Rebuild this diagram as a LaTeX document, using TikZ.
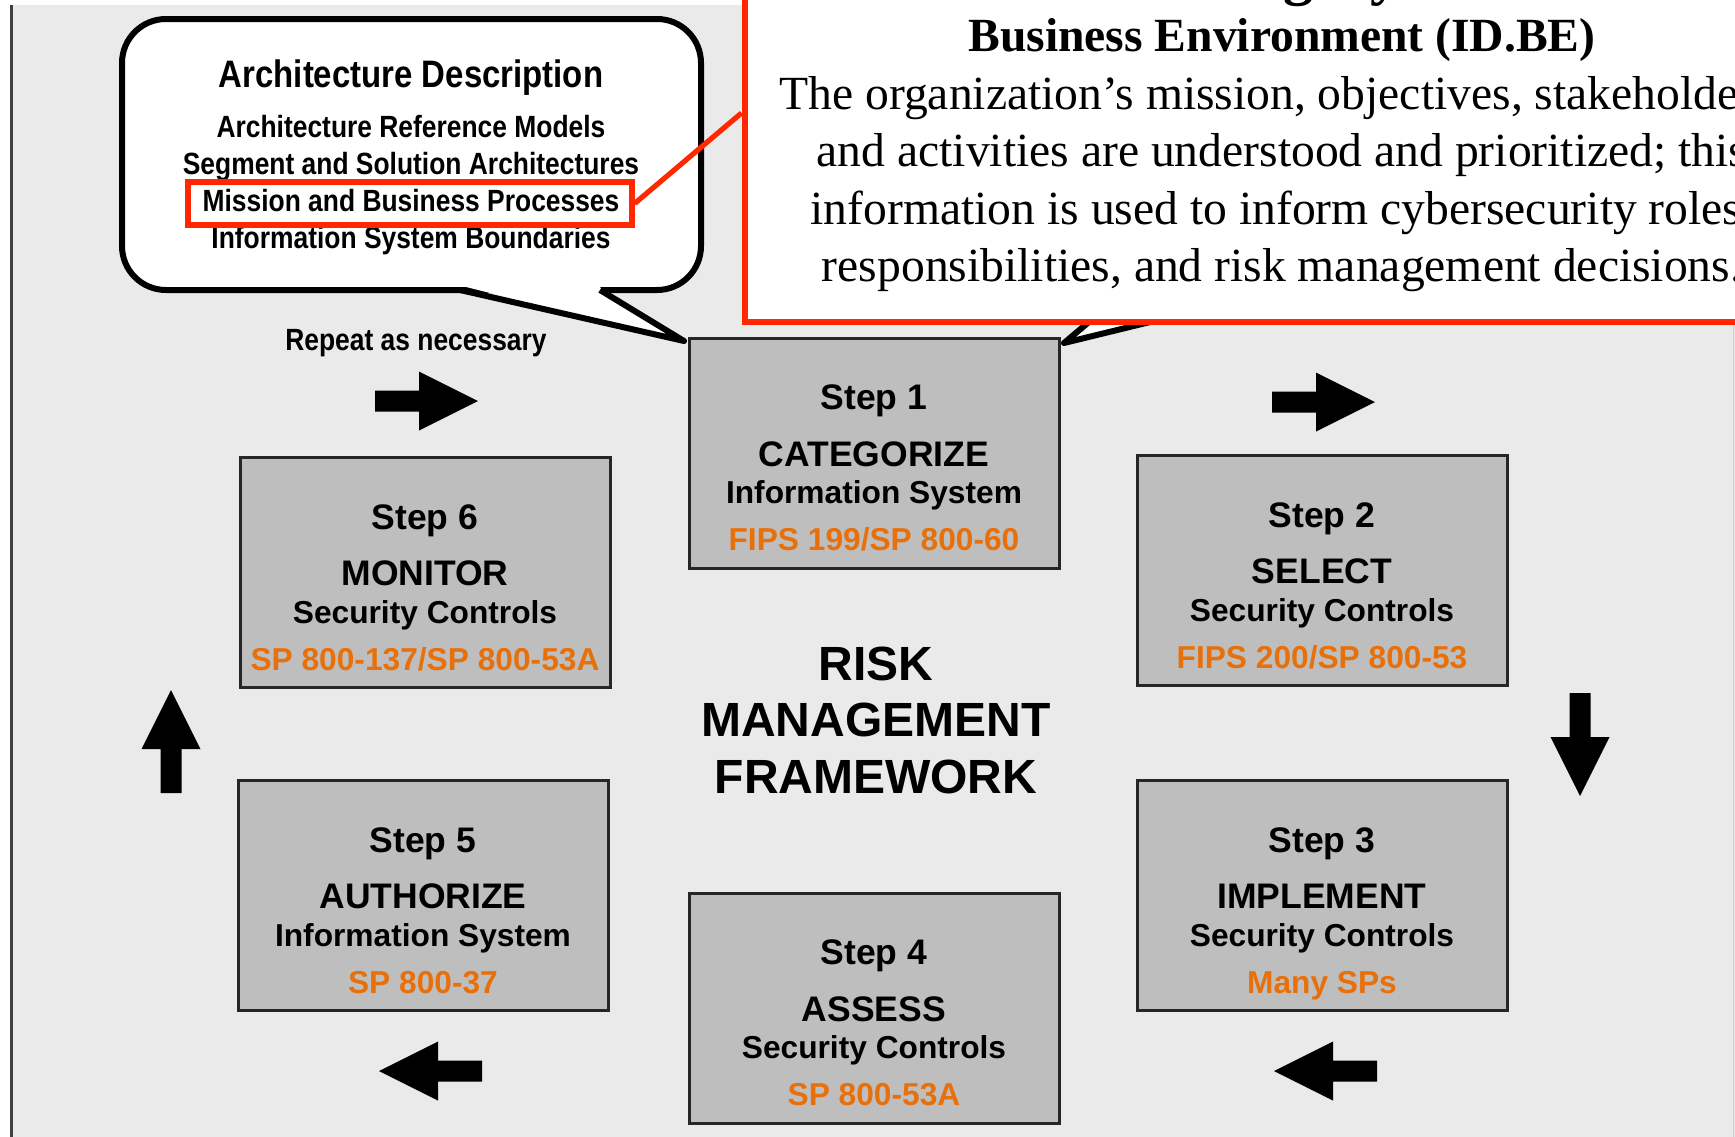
\documentclass[tikz,border=0pt]{standalone}
\usepackage{fontspec}
\setmainfont{Liberation Serif}
\setsansfont{Liberation Sans}
\newfontfamily\condsf[FakeStretch=0.86]{Liberation Sans}
\usetikzlibrary{positioning}
\definecolor{bggray}{RGB}{234,234,234}
\definecolor{boxgray}{RGB}{190,190,190}
\definecolor{refred}{RGB}{255,40,0}
\definecolor{sporange}{RGB}{232,112,10}
\newcommand{\stepbig}[1]{{\fontsize{17.75}{18.75}\selectfont #1}}

\begin{document}
\begin{tikzpicture}[x=0.5pt,y=-0.5pt,
    stepbox/.style={draw=black!85,line width=1.5pt,fill=boxgray,minimum width=185pt,minimum height=115pt},
    steptext/.style={align=center,inner sep=0pt,font=\sffamily\bfseries\fontsize{15.85}{18.75}\selectfont},
    bubbletext/.style={align=center,inner sep=0pt,font=\condsf\bfseries\fontsize{15.35}{18.4}\selectfont},
    blockarr/.pic={\fill (-51,-10.5) -- (-7,-10.5) -- (-7,-29.5) -- (52,0) -- (-7,29.5) -- (-7,10.5) -- (-51,10.5) -- cycle;}]
    \useasboundingbox (0,0) rectangle (1735,1136);
    \clip (0,0) rectangle (1735,1136);
    % background
    \fill[bggray] (12,5) rectangle (1740,1140);
    \draw[black!75,line width=1.5pt] (11,5) -- (11,1140);
    \draw[black!20,line width=0.5pt] (1733,320) -- (1733,1140);
    % callout bubble
    \draw[line width=3pt,fill=white,rounded corners=22pt] (122,19) rectangle (701,290);
    \fill[white] (462,286) -- (684,341) -- (598,286) -- cycle;
    \draw[line width=3pt,line join=round] (460,290) -- (684,341) -- (600,290);
    \filldraw[fill=white,draw=black,line width=3pt,line join=round] (1115,300) -- (1064,343) -- (1240,300);
    % red box
    \node[draw=refred,line width=3pt,fill=white,minimum width=535.5pt,minimum height=209pt] (idbe) at (1280,113) {};
    \node[align=center,inner sep=0pt,anchor=north,font=\rmfamily\fontsize{23.8}{28.75}\selectfont] (idbetxt) at (1282,-47)
        {{\bfseries\fontsize{30}{28.75}\selectfont Category}\\[0.45pt]\textbf{Business Environment (ID.BE)}\\
         The organization’s mission, objectives, stakeholders,\\and activities are understood and prioritized; this\\
         information is used to inform cybersecurity roles,\\responsibilities, and risk management decisions.};
    \node[bubbletext,anchor=north] (archdesc) at (411,59.5)
        {{\fontsize{19.15}{18.4}\selectfont Architecture Description}\\[6.6pt]Architecture Reference Models\\
         Segment and Solution Architectures\\Mission and Business Processes\\Information System Boundaries};
    \node[bubbletext,anchor=base] (repeat) at (416,350) {Repeat as necessary};
    % steps
    \node[stepbox] (step1) at (874,453) {};
    \node[steptext,below=24pt of step1.north] (step1txt) {\stepbig{Step 1}\\[9.5pt]\stepbig{CATEGORIZE}\\Information System\\[4.75pt]\textcolor{sporange}{FIPS 199/SP 800-60}};
    \node[stepbox] (step2) at (1322,570.5) {};
    \node[steptext,below=24pt of step2.north] (step2txt) {\stepbig{Step 2}\\[9.5pt]\stepbig{SELECT}\\Security Controls\\[4.75pt]\textcolor{sporange}{FIPS 200/SP 800-53}};
    \node[stepbox] (step3) at (1322,895.5) {};
    \node[steptext,below=24pt of step3.north] (step3txt) {\stepbig{Step 3}\\[9.5pt]\stepbig{IMPLEMENT}\\Security Controls\\[4.75pt]\textcolor{sporange}{Many SPs}};
    \node[stepbox] (step4) at (874,1008) {};
    \node[steptext,below=24pt of step4.north] (step4txt) {\stepbig{Step 4}\\[9.5pt]\stepbig{ASSESS}\\Security Controls\\[4.75pt]\textcolor{sporange}{SP 800-53A}};
    \node[stepbox] (step5) at (423,895.5) {};
    \node[steptext,below=24pt of step5.north] (step5txt) {\stepbig{Step 5}\\[9.5pt]\stepbig{AUTHORIZE}\\Information System\\[4.75pt]\textcolor{sporange}{SP 800-37}};
    \node[stepbox] (step6) at (425,572.5) {};
    \node[steptext,below=24pt of step6.north] (step6txt) {\stepbig{Step 6}\\[9.5pt]\stepbig{MONITOR}\\Security Controls\\[4.75pt]\textcolor{sporange}{SP 800-137/SP 800-53A}};
    \node[align=center,font=\sffamily\bfseries\fontsize{24}{28.25}\selectfont] (rmf) at (876,720) {RISK\\MANAGEMENT\\FRAMEWORK};
    % block arrows
    \pic at (426,401) {blockarr};
    \pic at (1323,402) {blockarr};
    \pic[rotate=-90] at (1580,744) {blockarr};
    \pic[rotate=180] at (1326,1071) {blockarr};
    \pic[rotate=180] at (431,1071) {blockarr};
    \pic[rotate=90] at (171,742) {blockarr};
    % highlight
    \node[draw=refred,line width=2.6pt,minimum width=222pt,minimum height=21.5pt,inner sep=0pt] (mbp) at (410,203.5) {};
    \draw[refred,line width=2.6pt] (mbp.east) -- (idbe.west);
\end{tikzpicture}
\end{document}
